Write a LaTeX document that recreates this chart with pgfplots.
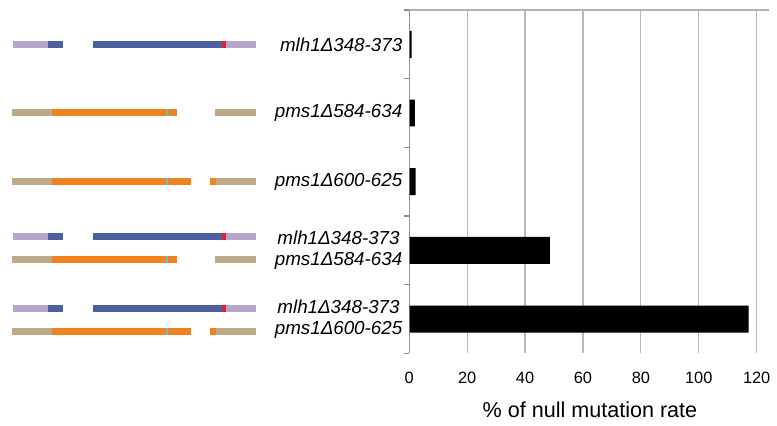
\documentclass[border=0pt]{standalone}
\usepackage{fontspec}
\setmainfont{Liberation Sans}
\usepackage{pgfplots}
\pgfplotsset{compat=1.18}

\definecolor{lav}{RGB}{181,166,204}
\definecolor{mblue}{RGB}{76,96,160}
\definecolor{mred}{RGB}{226,32,48}
\definecolor{ptan}{RGB}{190,169,136}
\definecolor{porg}{RGB}{240,130,32}
\definecolor{pcya}{RGB}{104,190,204}

% one coloured segment of a protein schematic, drawn in the canvas axis (pixel units)
\newcommand{\seg}[4]{\fill[#1] (axis cs:#2,#4-3.5) rectangle (axis cs:#3,#4+3.5);}
\newcommand{\mlhrow}[1]{%
  \seg{lav}{13}{48}{#1}\seg{mblue}{48}{63}{#1}\seg{mblue}{93}{222.5}{#1}%
  \seg{mred}{222.5}{226.5}{#1}\seg{lav}{226.5}{256}{#1}}
\newcommand{\pmsA}[1]{%
  \seg{ptan}{12}{52.5}{#1}\seg{porg}{52.5}{166}{#1}\seg{pcya}{166}{168.5}{#1}%
  \seg{porg}{168.5}{177}{#1}\seg{ptan}{215.5}{256.5}{#1}}
\newcommand{\pmsB}[1]{%
  \seg{ptan}{12.5}{52.5}{#1}\seg{porg}{52.5}{166.5}{#1}\seg{pcya}{166.5}{168.5}{#1}%
  \seg{porg}{168.5}{191.5}{#1}\seg{porg}{210.5}{216.5}{#1}\seg{ptan}{216.5}{256.5}{#1}}

\begin{document}
\begin{tikzpicture}
% canvas: whole picture in pixel units, holds the schematics and frame lines
\begin{axis}[name=canvas, hide axis, scale only axis,
    width=388.5pt, height=213pt,
    xmin=0, xmax=777, ymin=0, ymax=426, y dir=reverse, clip=false]
\path (axis cs:0,0) (axis cs:777,426);
\mlhrow{45}
\pmsA{112.3}
\pmsB{182.3}
\mlhrow{237.3}
\pmsA{260}
\mlhrow{309.3}
\pmsB{331.7}
\draw[black!30, line width=0.6pt] (axis cs:405,10) -- (axis cs:770,10);
\end{axis}

\begin{axis}[at={(205pt,208pt)}, anchor=north west, scale only axis,
    width=174pt, height=172pt,
    xbar, bar width=13.5pt,
    xmin=0, xmax=120, ymin=-0.5, ymax=4.5, y dir=reverse,
    axis line style={draw=none},
    xtick={0,20,...,120},
    ytick={0,...,4},
    yticklabels={{mlh1Δ348-373},{pms1Δ584-634},{pms1Δ600-625},
      {mlh1Δ348-373\\pms1Δ584-634},{mlh1Δ348-373\\pms1Δ600-625}},
    minor ytick={-0.5,0.5,...,4.5},
    tick pos=left, tick align=outside,
    major tick length=0pt, minor tick length=2.5pt,
    minor tick style={black!45, line width=0.6pt},
    xmajorgrids, major grid style={black!28, line width=0.6pt},
    /pgf/number format/assume math mode=true,
    xticklabel style={font=\fontsize{8.2}{9.8}\selectfont, yshift=-6pt},
    yticklabel style={font=\fontsize{9.4}{10.5}\selectfont\itshape, align=center},
    xlabel={\% of null mutation rate},
    xlabel style={font=\fontsize{10.8}{13}\selectfont, at={(rel axis cs:0.5,0)},
      anchor=center, yshift=-28.5pt, xshift=3.5pt},
  ]
\addplot[fill=black, draw=none] coordinates {
(0.8,0) (1.9,1) (2.2,2) (48.6,3) (117.2,4)
};
\draw[black!50, line width=0.7pt] (rel axis cs:0,0) -- (rel axis cs:0,1);
\end{axis}
\end{tikzpicture}
\end{document}
